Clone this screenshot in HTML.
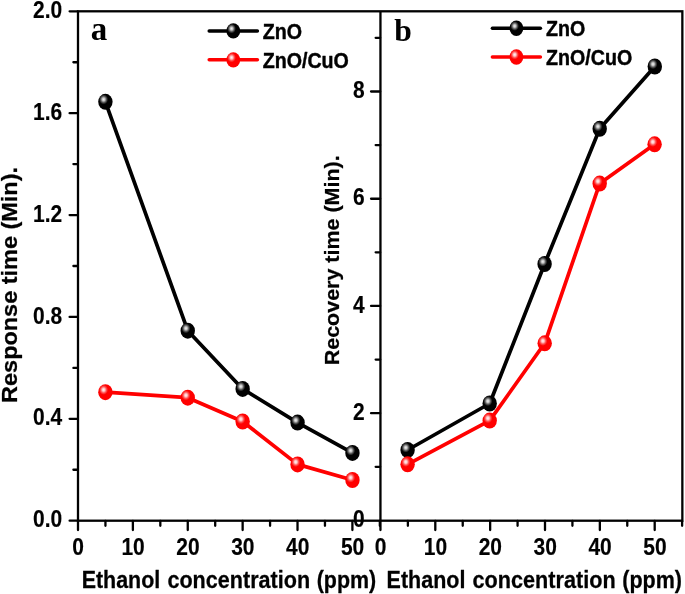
<!DOCTYPE html>
<html><head><meta charset="utf-8"><title>Response and recovery time</title>
<style>html,body{margin:0;padding:0;background:#fff}svg{display:block;will-change:transform;opacity:0.999}</style></head>
<body>
<svg width="685" height="594" viewBox="0 0 685 594">
<defs>
<radialGradient id="gk" cx="0.375" cy="0.35" r="0.31" fx="0.375" fy="0.35">
<stop offset="0" stop-color="#f2f2f2"/><stop offset="0.3" stop-color="#c4c4c4"/><stop offset="0.65" stop-color="#555"/><stop offset="1" stop-color="#000"/>
</radialGradient>
<radialGradient id="gr" cx="0.375" cy="0.35" r="0.31" fx="0.375" fy="0.35">
<stop offset="0" stop-color="#fff6f6"/><stop offset="0.3" stop-color="#ffc8c8"/><stop offset="0.65" stop-color="#ff5050"/><stop offset="1" stop-color="#ff0000"/>
</radialGradient>
</defs>
<rect width="685" height="594" fill="#fff"/>
<g stroke="#000" stroke-width="2.3" fill="none" stroke-linecap="butt">
<rect x="78.0" y="11.3" width="604.35" height="509.40000000000003"/>
<line x1="380.45" y1="11.3" x2="380.45" y2="520.7"/>
<g stroke-linecap="round">
<line x1="69.60" y1="520.70" x2="77.7" y2="520.70"/>
<line x1="73.40" y1="469.76" x2="77.7" y2="469.76"/>
<line x1="69.60" y1="418.82" x2="77.7" y2="418.82"/>
<line x1="73.40" y1="367.88" x2="77.7" y2="367.88"/>
<line x1="69.60" y1="316.94" x2="77.7" y2="316.94"/>
<line x1="73.40" y1="266.00" x2="77.7" y2="266.00"/>
<line x1="69.60" y1="215.06" x2="77.7" y2="215.06"/>
<line x1="73.40" y1="164.12" x2="77.7" y2="164.12"/>
<line x1="69.60" y1="113.18" x2="77.7" y2="113.18"/>
<line x1="73.40" y1="62.24" x2="77.7" y2="62.24"/>
<line x1="69.60" y1="11.30" x2="77.7" y2="11.30"/>
<line x1="375.65" y1="466.83" x2="380.15" y2="466.83"/>
<line x1="371.05" y1="413.21" x2="380.15" y2="413.21"/>
<line x1="375.65" y1="359.59" x2="380.15" y2="359.59"/>
<line x1="371.05" y1="305.97" x2="380.15" y2="305.97"/>
<line x1="375.65" y1="252.35" x2="380.15" y2="252.35"/>
<line x1="371.05" y1="198.73" x2="380.15" y2="198.73"/>
<line x1="375.65" y1="145.11" x2="380.15" y2="145.11"/>
<line x1="371.05" y1="91.49" x2="380.15" y2="91.49"/>
<line x1="375.65" y1="37.87" x2="380.15" y2="37.87"/>
<line x1="78.00" y1="521.0" x2="78.00" y2="530.10"/>
<line x1="105.44" y1="521.0" x2="105.44" y2="525.80"/>
<line x1="132.88" y1="521.0" x2="132.88" y2="530.10"/>
<line x1="160.32" y1="521.0" x2="160.32" y2="525.80"/>
<line x1="187.76" y1="521.0" x2="187.76" y2="530.10"/>
<line x1="215.20" y1="521.0" x2="215.20" y2="525.80"/>
<line x1="242.64" y1="521.0" x2="242.64" y2="530.10"/>
<line x1="270.08" y1="521.0" x2="270.08" y2="525.80"/>
<line x1="297.52" y1="521.0" x2="297.52" y2="530.10"/>
<line x1="324.96" y1="521.0" x2="324.96" y2="525.80"/>
<line x1="352.40" y1="521.0" x2="352.40" y2="530.10"/>
<line x1="379.84" y1="521.0" x2="379.84" y2="525.80"/>
<line x1="380.45" y1="521.0" x2="380.45" y2="530.10"/>
<line x1="407.88" y1="521.0" x2="407.88" y2="525.80"/>
<line x1="435.30" y1="521.0" x2="435.30" y2="530.10"/>
<line x1="462.73" y1="521.0" x2="462.73" y2="525.80"/>
<line x1="490.15" y1="521.0" x2="490.15" y2="530.10"/>
<line x1="517.58" y1="521.0" x2="517.58" y2="525.80"/>
<line x1="545.00" y1="521.0" x2="545.00" y2="530.10"/>
<line x1="572.42" y1="521.0" x2="572.42" y2="525.80"/>
<line x1="599.85" y1="521.0" x2="599.85" y2="530.10"/>
<line x1="627.27" y1="521.0" x2="627.27" y2="525.80"/>
<line x1="654.70" y1="521.0" x2="654.70" y2="530.10"/>
<line x1="682.12" y1="521.0" x2="682.12" y2="525.80"/>
</g>
</g>
<g font-family='"Liberation Sans", Arial, Helvetica, sans-serif' font-weight="bold" fill="#000" stroke="#000" stroke-width="0.25" stroke-linejoin="round">
<text transform="translate(62.20,527.30) scale(1,1.12)" font-size="21.0" text-anchor="end" stroke-width="0.15">0.0</text>
<text transform="translate(62.20,425.42) scale(1,1.12)" font-size="21.0" text-anchor="end" stroke-width="0.15">0.4</text>
<text transform="translate(62.20,323.54) scale(1,1.12)" font-size="21.0" text-anchor="end" stroke-width="0.15">0.8</text>
<text transform="translate(62.20,221.66) scale(1,1.12)" font-size="21.0" text-anchor="end" stroke-width="0.15">1.2</text>
<text transform="translate(62.20,119.78) scale(1,1.12)" font-size="21.0" text-anchor="end" stroke-width="0.15">1.6</text>
<text transform="translate(62.20,17.90) scale(1,1.12)" font-size="21.0" text-anchor="end" stroke-width="0.15">2.0</text>
<text transform="translate(364.60,527.05) scale(1,1.12)" font-size="21.0" text-anchor="end" stroke-width="0.15">0</text>
<text transform="translate(364.60,419.81) scale(1,1.12)" font-size="21.0" text-anchor="end" stroke-width="0.15">2</text>
<text transform="translate(364.60,312.57) scale(1,1.12)" font-size="21.0" text-anchor="end" stroke-width="0.15">4</text>
<text transform="translate(364.60,205.33) scale(1,1.12)" font-size="21.0" text-anchor="end" stroke-width="0.15">6</text>
<text transform="translate(364.60,98.09) scale(1,1.12)" font-size="21.0" text-anchor="end" stroke-width="0.15">8</text>
<text transform="translate(78.20,555.10) scale(1,1.12)" font-size="21.0" text-anchor="middle" stroke-width="0.15">0</text>
<text transform="translate(133.08,555.10) scale(1,1.12)" font-size="21.0" text-anchor="middle" stroke-width="0.15">10</text>
<text transform="translate(187.96,555.10) scale(1,1.12)" font-size="21.0" text-anchor="middle" stroke-width="0.15">20</text>
<text transform="translate(242.84,555.10) scale(1,1.12)" font-size="21.0" text-anchor="middle" stroke-width="0.15">30</text>
<text transform="translate(297.72,555.10) scale(1,1.12)" font-size="21.0" text-anchor="middle" stroke-width="0.15">40</text>
<text transform="translate(352.60,555.10) scale(1,1.12)" font-size="21.0" text-anchor="middle" stroke-width="0.15">50</text>
<text transform="translate(380.65,555.10) scale(1,1.12)" font-size="21.0" text-anchor="middle" stroke-width="0.15">0</text>
<text transform="translate(435.50,555.10) scale(1,1.12)" font-size="21.0" text-anchor="middle" stroke-width="0.15">10</text>
<text transform="translate(490.35,555.10) scale(1,1.12)" font-size="21.0" text-anchor="middle" stroke-width="0.15">20</text>
<text transform="translate(545.20,555.10) scale(1,1.12)" font-size="21.0" text-anchor="middle" stroke-width="0.15">30</text>
<text transform="translate(600.05,555.10) scale(1,1.12)" font-size="21.0" text-anchor="middle" stroke-width="0.15">40</text>
<text transform="translate(654.90,555.10) scale(1,1.12)" font-size="21.0" text-anchor="middle" stroke-width="0.15">50</text>
<text transform="translate(81.70,588.15) scale(1,1.07)" font-size="21.6" textLength="78.54" lengthAdjust="spacingAndGlyphs">Ethanol</text>
<text transform="translate(167.41,588.15) scale(1,1.07)" font-size="21.6" textLength="142.71" lengthAdjust="spacingAndGlyphs">concentration</text>
<text transform="translate(316.73,588.15) scale(1,1.07)" font-size="21.6" textLength="59.49" lengthAdjust="spacingAndGlyphs">(ppm)</text>
<text transform="translate(386.60,588.15) scale(1,1.07)" font-size="21.6" textLength="78.76" lengthAdjust="spacingAndGlyphs">Ethanol</text>
<text transform="translate(472.54,588.15) scale(1,1.07)" font-size="21.6" textLength="143.1" lengthAdjust="spacingAndGlyphs">concentration</text>
<text transform="translate(622.27,588.15) scale(1,1.07)" font-size="21.6" textLength="59.65" lengthAdjust="spacingAndGlyphs">(ppm)</text>
<text transform="translate(16.90,402.90) rotate(-90)" font-size="22.2" textLength="235.9" lengthAdjust="spacingAndGlyphs">Response time (Min).</text>
<text transform="translate(339.00,365.30) rotate(-90)" font-size="20.5" textLength="210" lengthAdjust="spacingAndGlyphs">Recovery time (Min).</text>
<text transform="translate(262.70,38.90) scale(1,1.09)" font-size="19.65" stroke-width="0.4">ZnO</text>
<text transform="translate(262.70,67.90) scale(1,1.09)" font-size="19.65" stroke-width="0.4">ZnO/CuO</text>
<text transform="translate(546.00,35.80) scale(1,1.09)" font-size="19.65" stroke-width="0.4">ZnO</text>
<text transform="translate(546.00,65.20) scale(1,1.09)" font-size="19.65" stroke-width="0.4">ZnO/CuO</text>
</g>
<g font-family='"Liberation Serif", "Times New Roman", serif' font-weight="bold" fill="#000">
<text x="90.7" y="40.0" font-size="33">a</text>
<text x="394.3" y="40.6" font-size="31.6">b</text>
</g>
<polyline points="105.40,101.80 187.75,330.70 242.65,388.90 297.55,422.60 352.45,452.90" fill="none" stroke="#000" stroke-width="3.7" stroke-linejoin="round"/>
<ellipse cx="105.40" cy="101.80" rx="7.2" ry="8.0" fill="url(#gk)"/>
<ellipse cx="187.75" cy="330.70" rx="7.2" ry="8.0" fill="url(#gk)"/>
<ellipse cx="242.65" cy="388.90" rx="7.2" ry="8.0" fill="url(#gk)"/>
<ellipse cx="297.55" cy="422.60" rx="7.2" ry="8.0" fill="url(#gk)"/>
<ellipse cx="352.45" cy="452.90" rx="7.2" ry="8.0" fill="url(#gk)"/>
<polyline points="105.40,392.20 187.75,397.70 242.65,421.50 297.55,464.40 352.45,480.00" fill="none" stroke="#ff0000" stroke-width="3.7" stroke-linejoin="round"/>
<ellipse cx="105.40" cy="392.20" rx="7.2" ry="8.0" fill="url(#gr)"/>
<ellipse cx="187.75" cy="397.70" rx="7.2" ry="8.0" fill="url(#gr)"/>
<ellipse cx="242.65" cy="421.50" rx="7.2" ry="8.0" fill="url(#gr)"/>
<ellipse cx="297.55" cy="464.40" rx="7.2" ry="8.0" fill="url(#gr)"/>
<ellipse cx="352.45" cy="480.00" rx="7.2" ry="8.0" fill="url(#gr)"/>
<polyline points="407.60,450.00 489.70,403.50 544.60,264.00 599.70,128.80 654.80,66.50" fill="none" stroke="#000" stroke-width="3.7" stroke-linejoin="round"/>
<ellipse cx="407.60" cy="450.00" rx="7.2" ry="8.0" fill="url(#gk)"/>
<ellipse cx="489.70" cy="403.50" rx="7.2" ry="8.0" fill="url(#gk)"/>
<ellipse cx="544.60" cy="264.00" rx="7.2" ry="8.0" fill="url(#gk)"/>
<ellipse cx="599.70" cy="128.80" rx="7.2" ry="8.0" fill="url(#gk)"/>
<ellipse cx="654.80" cy="66.50" rx="7.2" ry="8.0" fill="url(#gk)"/>
<polyline points="407.60,464.30 489.70,420.60 544.70,343.30 599.70,183.60 654.60,144.30" fill="none" stroke="#ff0000" stroke-width="3.7" stroke-linejoin="round"/>
<ellipse cx="407.60" cy="464.30" rx="7.2" ry="8.0" fill="url(#gr)"/>
<ellipse cx="489.70" cy="420.60" rx="7.2" ry="8.0" fill="url(#gr)"/>
<ellipse cx="544.70" cy="343.30" rx="7.2" ry="8.0" fill="url(#gr)"/>
<ellipse cx="599.70" cy="183.60" rx="7.2" ry="8.0" fill="url(#gr)"/>
<ellipse cx="654.60" cy="144.30" rx="7.2" ry="8.0" fill="url(#gr)"/>
<line x1="209.2" y1="30.9" x2="257.4" y2="30.9" stroke="#000" stroke-width="3.5" stroke-linecap="round"/>
<ellipse cx="233.30" cy="30.90" rx="6.9" ry="7.7" fill="url(#gk)"/>
<line x1="209.2" y1="59.85" x2="257.4" y2="59.85" stroke="#ff0000" stroke-width="3.5" stroke-linecap="round"/>
<ellipse cx="233.30" cy="59.85" rx="6.9" ry="7.7" fill="url(#gr)"/>
<line x1="492.4" y1="28.3" x2="540.4" y2="28.3" stroke="#000" stroke-width="3.5" stroke-linecap="round"/>
<ellipse cx="516.40" cy="28.30" rx="6.9" ry="7.7" fill="url(#gk)"/>
<line x1="492.4" y1="57.0" x2="540.4" y2="57.0" stroke="#ff0000" stroke-width="3.5" stroke-linecap="round"/>
<ellipse cx="516.40" cy="57.00" rx="6.9" ry="7.7" fill="url(#gr)"/>
</svg>
</body></html>
